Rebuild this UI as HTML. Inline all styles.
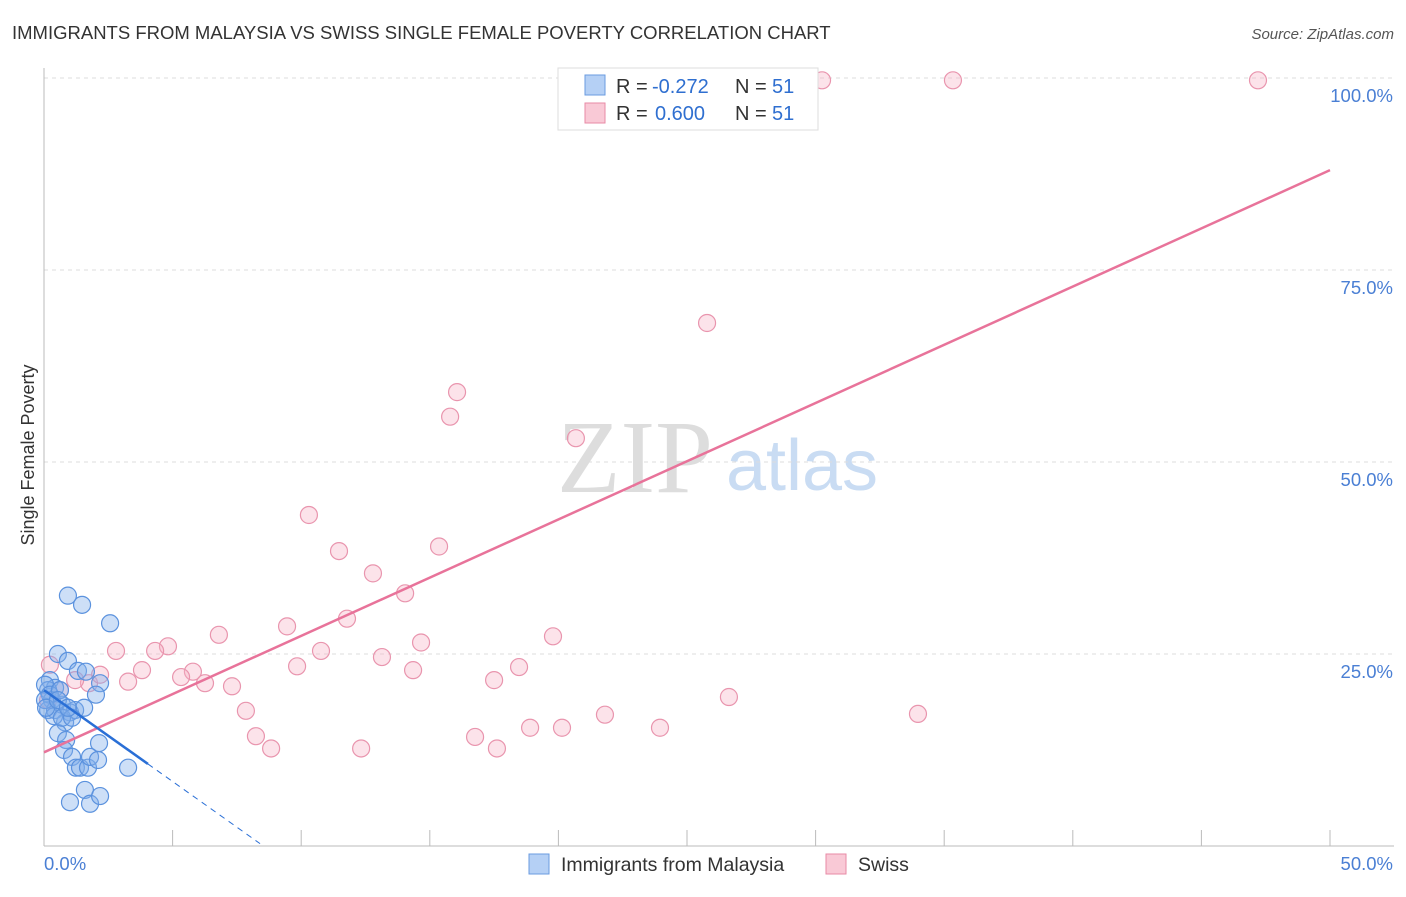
<!DOCTYPE html>
<html><head><meta charset="utf-8"><style>
body{margin:0;background:#fff;font-family:"Liberation Sans",sans-serif;}
</style></head><body>
<svg width="1406" height="892" xmlns="http://www.w3.org/2000/svg">
<text x="12" y="39" font-size="18.5" fill="#333">IMMIGRANTS FROM MALAYSIA VS SWISS SINGLE FEMALE POVERTY CORRELATION CHART</text>
<text x="1394" y="39" font-size="15" fill="#555" font-style="italic" text-anchor="end">Source: ZipAtlas.com</text>
<text x="635" y="492" font-size="104" fill="#ddd" font-family="Liberation Serif,serif" text-anchor="middle">ZIP</text>
<text x="802" y="490" font-size="72" fill="#c9dcf3" text-anchor="middle">atlas</text>
<g id="grid"></g><g id="axes"></g><g id="marks"></g>
<text transform="translate(34,455) rotate(-90)" font-size="18" fill="#333" text-anchor="middle">Single Female Poverty</text>
<g>
<rect x="558" y="68" width="260" height="62" fill="#fff" stroke="#ddd"/>
<rect x="585" y="75" width="20" height="20" fill="#b5d0f5" stroke="#6a9be0"/>
<text x="616" y="93" font-size="20" fill="#333">R =</text>
<text x="652" y="93" font-size="20" fill="#2f6fd0">-0.272</text>
<text x="735" y="93" font-size="20" fill="#333">N =</text>
<text x="772" y="93" font-size="20" fill="#2f6fd0">51</text>
<rect x="585" y="103" width="20" height="20" fill="#f9c9d6" stroke="#e88aa6"/>
<text x="616" y="120" font-size="20" fill="#333">R =</text>
<text x="655" y="120" font-size="20" fill="#2f6fd0">0.600</text>
<text x="735" y="120" font-size="20" fill="#333">N =</text>
<text x="772" y="120" font-size="20" fill="#2f6fd0">51</text>
</g>
<g>
<rect x="529" y="854" width="20" height="20" fill="#b5d0f5" stroke="#6a9be0"/>
<text x="561" y="871" font-size="19.5" fill="#333">Immigrants from Malaysia</text>
<rect x="826" y="854" width="20" height="20" fill="#f9c9d6" stroke="#e88aa6"/>
<text x="858" y="871" font-size="19.5" fill="#333">Swiss</text>
</g>
</svg>
<script>
const yTicks=[25,50,75,100];
const yTickLabels=["25.0%","50.0%","75.0%","100.0%"];
const xTickLabels=["0.0%","50.0%"];
const blueX=[0.93,1.48,2.57,0.54,0.93,1.32,1.63,2.18,0.23,0.43,0.16,0.31,2.02,0.16,0.43,0.70,1.01,1.21,1.56,0.82,0.54,0.86,0.78,1.09,1.24,1.40,1.71,1.79,2.10,2.14,3.27,1.59,1.01,1.79,2.18,0.04,0.23,0.62,0.04,0.39,0.70,1.09,0.08,0.54,0.93];
const blueY=[32.6,31.4,29.0,25.0,24.1,22.8,22.7,21.2,21.6,20.6,20.3,19.0,19.7,17.7,17.7,18.4,17.4,17.7,18.0,16.1,14.7,13.8,12.5,11.6,10.2,10.2,10.2,11.6,11.2,13.4,10.2,7.3,5.7,5.5,6.5,21.0,19.7,20.3,19.0,16.9,16.7,16.7,18.0,19.0,18.0];
const pinkX=[30.25,35.34,47.2,25.78,16.06,15.79,20.68,10.30,15.36,11.47,12.79,14.04,11.78,9.45,19.79,6.80,4.82,4.32,2.80,14.66,10.77,13.14,9.84,18.47,3.81,5.79,5.33,14.35,17.50,3.27,6.26,7.31,26.63,33.98,7.85,21.81,8.24,16.76,18.90,20.14,23.95,8.83,12.33,17.61,1.75,2.18,1.21,0.23,0.62,0.16];
const pinkY=[99.7,99.7,99.7,68.1,59.1,55.9,53.1,43.1,39.0,38.4,35.5,32.9,29.6,28.6,27.3,27.5,26.0,25.4,25.4,26.5,25.4,24.6,23.4,23.3,22.9,22.7,22.0,22.9,21.6,21.4,21.2,20.8,19.4,17.2,17.6,17.1,14.3,14.2,15.4,15.4,15.4,12.7,12.7,12.7,21.2,22.3,21.6,23.6,20.3,19.0];
const pinkTrend=[12.2,88.0];
const blueTrend=[20.3,-2.38];
const NS="http://www.w3.org/2000/svg";
const X=v=>44+v*25.72, Y=v=>846-v*7.68;
function mk(tag,attrs,parent){const e=document.createElementNS(NS,tag);for(const k in attrs)e.setAttribute(k,attrs[k]);document.getElementById(parent).appendChild(e);return e;}
yTicks.forEach((t,i)=>{
 const g=mk('line',{x1:44,x2:1394,y1:Y(t),y2:Y(t),stroke:'#ddd','stroke-dasharray':'4,4'},'grid');
 
 
 const l=mk('text',{x:1393,y:Y(t)+24,'font-size':18.5,fill:'#4a7fd4','text-anchor':'end'},'axes');
 l.textContent=yTickLabels[i];
 
 
});
const ya=mk('line',{x1:44,x2:44,y1:68,y2:846,stroke:'#bbb'},'axes');


const xa=mk('line',{x1:44,x2:1394,y1:846,y2:846,stroke:'#bbb'},'axes');


for(let i=0;i<=10;i++){const t=mk('line',{x1:X(i*5),x2:X(i*5),y1:830,y2:846,stroke:'#bbb'},'axes');
 
 }
const xl0=mk('text',{x:44,y:870,'font-size':18.5,fill:'#4a7fd4'},'axes');xl0.textContent=xTickLabels[0];


const xl1=mk('text',{x:1393,y:870,'font-size':18.5,fill:'#4a7fd4','text-anchor':'end'},'axes');xl1.textContent=xTickLabels[1];


pinkX.forEach((v,i)=>{const c=mk('circle',{cx:X(v),cy:Y(pinkY[i]),r:8.5,fill:'rgba(246,176,196,0.35)',stroke:'#e995ae','stroke-width':1.2},'marks');
 
 });
blueX.forEach((v,i)=>{const c=mk('circle',{cx:X(v),cy:Y(blueY[i]),r:8.5,fill:'rgba(130,175,235,0.4)',stroke:'#5b92de','stroke-width':1.2},'marks');
 
 });
const pl=mk('line',{x1:X(0),y1:Y(pinkTrend[0]),x2:X(50),y2:Y(pinkTrend[1]),stroke:'#e8739a','stroke-width':2.5},'marks');


const bl=mk('line',{x1:X(0),y1:Y(blueTrend[0]),x2:X(4.04),y2:Y(blueTrend[0]+blueTrend[1]*4.04),stroke:'#2a6fd6','stroke-width':2.5},'marks');


const bd=mk('line',{x1:X(4.04),y1:Y(blueTrend[0]+blueTrend[1]*4.04),x2:X(8.4),y2:Y(blueTrend[0]+blueTrend[1]*8.4),stroke:'#2a6fd6','stroke-width':1,'stroke-dasharray':'6,5'},'marks');


</script>
</body></html>
